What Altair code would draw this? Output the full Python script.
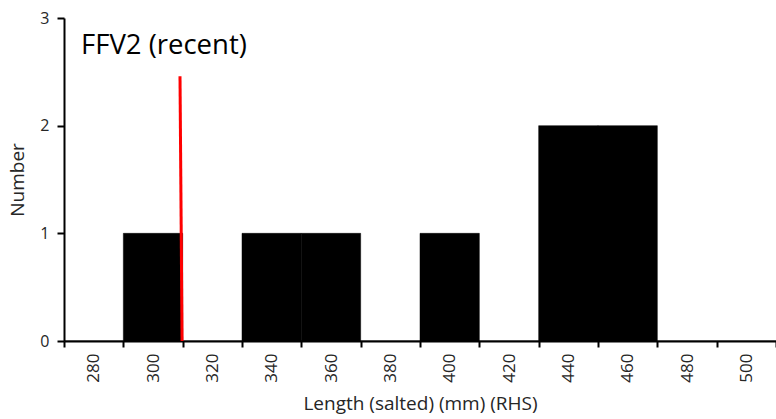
import altair as alt
import pandas as pd

categories = [280, 300, 320, 340, 360, 380, 400, 420, 440, 460, 480, 500]
counts = [0, 1, 0, 1, 1, 0, 1, 0, 2, 2, 0, 0]

marker_x_top = [309.1]
marker_x_bottom = [309.8]
marker_y_top = [2.46]
marker_y_bottom = [0]

title_text = "FFV2 (recent)"
x_title = "Length (salted) (mm) (RHS)"
y_title = "Number"

FONT = "Open Sans"
TXT = "#262626"

bars_df = pd.DataFrame({"bin": [str(c) for c in categories], "count": counts})
marker_df = pd.DataFrame({
    "x": marker_x_top, "x2": marker_x_bottom,
    "y": marker_y_top, "y2": marker_y_bottom,
})

y_scale = alt.Scale(domain=[0, 3], nice=False)

bars = alt.Chart(bars_df).mark_bar(color="black", stroke="black", strokeWidth=0.5).encode(
    x=alt.X("bin:N", sort=[str(c) for c in categories],
            scale=alt.Scale(paddingInner=0, paddingOuter=0),
            axis=alt.Axis(title=x_title, labelAngle=270, tickBand="extent",
                          labelFontSize=17, titleFontSize=19, labelFont=FONT, titleFont=FONT,
                          titleFontWeight="normal",
                          labelColor=TXT, titleColor=TXT,
                          domainColor="black", tickColor="black", domainWidth=2, tickWidth=2,
                          tickSize=6, labelPadding=6, titlePadding=12, grid=False)),
    y=alt.Y("count:Q", scale=y_scale,
            axis=alt.Axis(title=y_title, values=[0, 1, 2, 3], format="d",
                          labelFontSize=16, titleFontSize=19, labelFont=FONT, titleFont=FONT,
                          titleFontWeight="normal",
                          labelColor=TXT, titleColor=TXT,
                          domainColor="black", tickColor="black", domainWidth=2, tickWidth=2,
                          tickSize=7, labelPadding=8, titlePadding=12, grid=False)),
)

marker = alt.Chart(marker_df).mark_rule(color="#ff0000", strokeWidth=3).encode(
    x=alt.X("x:Q", scale=alt.Scale(domain=[270, 510], nice=False, zero=False), axis=None),
    x2="x2:Q",
    y=alt.Y("y:Q", scale=y_scale),
    y2="y2:Q",
)

label = alt.Chart(pd.DataFrame({"t": [title_text]})).mark_text(
    align="left", baseline="alphabetic", fontSize=27.5, font=FONT, color="black"
).encode(text="t:N", x=alt.value(17), y=alt.value(36))

chart = alt.layer(bars, marker, label).resolve_scale(x="independent").properties(
    width=712, height=323,
    padding={"left": 64, "top": 18, "right": 0, "bottom": 78},
    autosize="none",
    background="white",
).configure_view(stroke=None)

chart.save("out.html", embed_options={"renderer": "svg", "actions": False})
